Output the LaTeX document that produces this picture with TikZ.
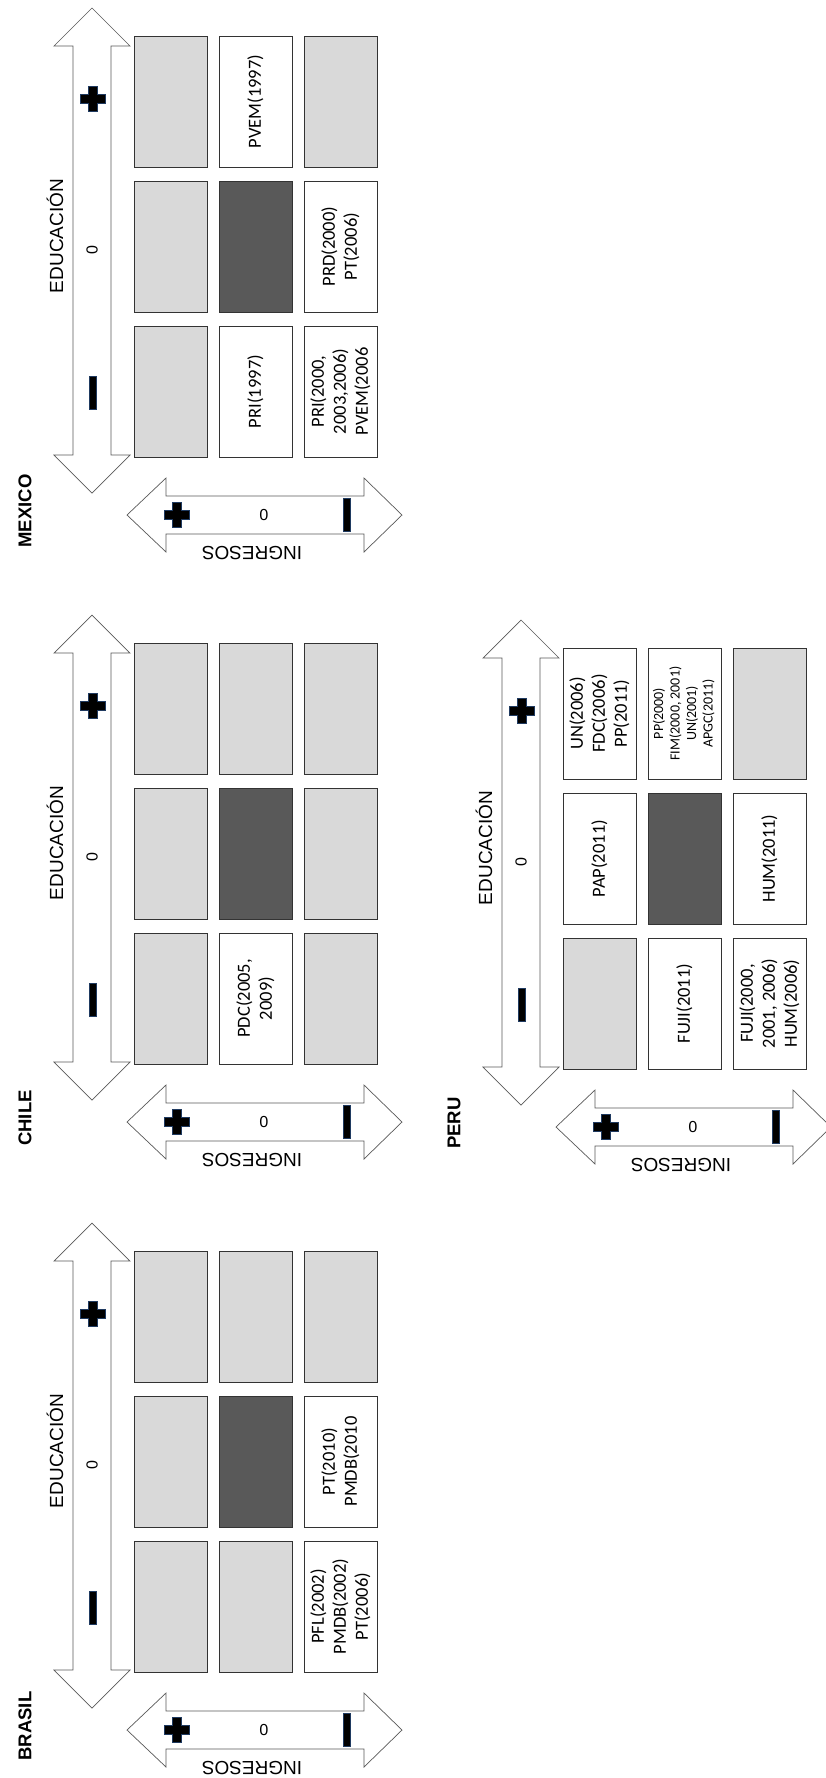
\documentclass[tikz,border=0pt]{standalone}
\usepackage{fontspec}
\setmainfont{Liberation Sans}
\newfontfamily\calibri{Carlito}
\usepackage{tikz}
\usetikzlibrary{calc}

\definecolor{cellgray}{HTML}{D9D9D9}
\definecolor{celldark}{HTML}{595959}
\definecolor{signedge}{HTML}{1F3A60}

\begin{document}
\begin{tikzpicture}[x=1pt,y=-1pt,
  box/.style={draw=black!80, line width=0.8pt, minimum width=131pt, minimum height=73pt,
    inner sep=2pt, rotate=90, align=center, font=\calibri\fontsize{18.5}{22}\selectfont},
  arr/.style={draw=black!65, line width=0.7pt, fill=white, line join=miter},
  sign/.style={fill=black, draw=signedge, line width=0.9pt},
  lbl/.style={font=\fontsize{19}{22}\selectfont, inner sep=0pt},
  zero/.style={font=\fontsize{16}{19}\selectfont, inner sep=0pt},
  country/.style={font=\bfseries\fontsize{18.5}{21}\selectfont, inner sep=0pt}]
  \useasboundingbox (0,0) rectangle (825,1778);
  % signs: plus and bar, centred on (x,y)
  \def\plusat#1#2{\path[sign,shift={(#1,#2)}] (-4.5,-12.5) -- (4.5,-12.5) -- (4.5,-4.5) -- (12.5,-4.5) -- (12.5,4.5)
    -- (4.5,4.5) -- (4.5,12.5) -- (-4.5,12.5) -- (-4.5,4.5) -- (-12.5,4.5) -- (-12.5,-4.5) -- (-4.5,-4.5) -- cycle;}
  \def\barat#1#2{\path[sign,shift={(#1,#2)}] (-3.5,-16.5) rectangle (3.5,16.5);}
  \def\panel#1#2#3#4#5{  % name, x0, y0 (top-left cell corner), country, cells row/col/fill/text
    \begin{scope}[shift={(#2,#3)}]
      \draw[arr] (-42,-28) -- (-4,10) -- (-23,10) -- (-23,419) -- (-4,419) -- (-42,457) -- (-80,419)
        -- (-61,419) -- (-61,10) -- (-80,10) -- cycle;   % educacion
      \draw[arr] (-7,479) -- (32,442) -- (32,460) -- (230,460) -- (230,442) -- (268,479) -- (230,516)
        -- (230,498) -- (32,498) -- (32,516) -- cycle;   % ingresos
      \node[lbl,rotate=90] (#1-edu) at (-79,200) {EDUCACIÓN};
      \node[lbl,rotate=180] (#1-ing) at (118,517) {INGRESOS};
      \node[zero,rotate=90] (#1-e0) at (-42,214) {0};
      \node[zero,rotate=180] (#1-i0) at (130,479) {0};
      \node[country,rotate=90] (#1-name) at (-109,475) {#4};
      \plusat{-41}{63} \barat{-41}{357}
      \plusat{43}{479} \barat{213}{479}
      \foreach \row/\col/\fil/\txt in {#5}
        \node[box,fill=\fil] (#1-\row\col) at ({36.5+85*(\col-1)},{65.5+145*(\row-1)}) {\txt};
    \end{scope}
  }
  \panel{mex}{134}{36}{MEXICO}{1/1/cellgray/{},1/2/white/{PVEM(1997)},1/3/cellgray/{},
    2/1/cellgray/{},2/2/celldark/{},2/3/white/{PRD(2000)\\PT(2006)},
    3/1/cellgray/{},3/2/white/{PRI(1997)},3/3/white/{PRI(2000,\\2003,2006)\\PVEM(2006}}
  \panel{chi}{134}{643}{CHILE}{1/1/cellgray/{},1/2/cellgray/{},1/3/cellgray/{},
    2/1/cellgray/{},2/2/celldark/{},2/3/cellgray/{},
    3/1/cellgray/{},3/2/white/{PDC(2005,\\2009)},3/3/cellgray/{}}
  \panel{bra}{134}{1251}{BRASIL}{1/1/cellgray/{},1/2/cellgray/{},1/3/cellgray/{},
    2/1/cellgray/{},2/2/celldark/{},2/3/white/{PT(2010)\\PMDB(2010},
    3/1/cellgray/{},3/2/cellgray/{},3/3/white/{PFL(2002)\\PMDB(2002)\\PT(2006)}}
  \panel{per}{563}{648}{PERU}{1/1/white/{UN(2006)\\FDC(2006)\\PP(2011)},
    1/2/white/{\fontsize{14}{16.5}\selectfont\begin{tabular}{@{}c@{}}PP(2000)\\FIM(2000, 2001)\\UN(2001)\\APGC(2011)\end{tabular}},
    1/3/cellgray/{},
    2/1/white/{PAP(2011)},2/2/celldark/{},2/3/white/{HUM(2011)},
    3/1/cellgray/{},3/2/white/{FUJI(2011)},3/3/white/{FUJI(2000,\\2001, 2006)\\HUM(2006)}}
\end{tikzpicture}
\end{document}
